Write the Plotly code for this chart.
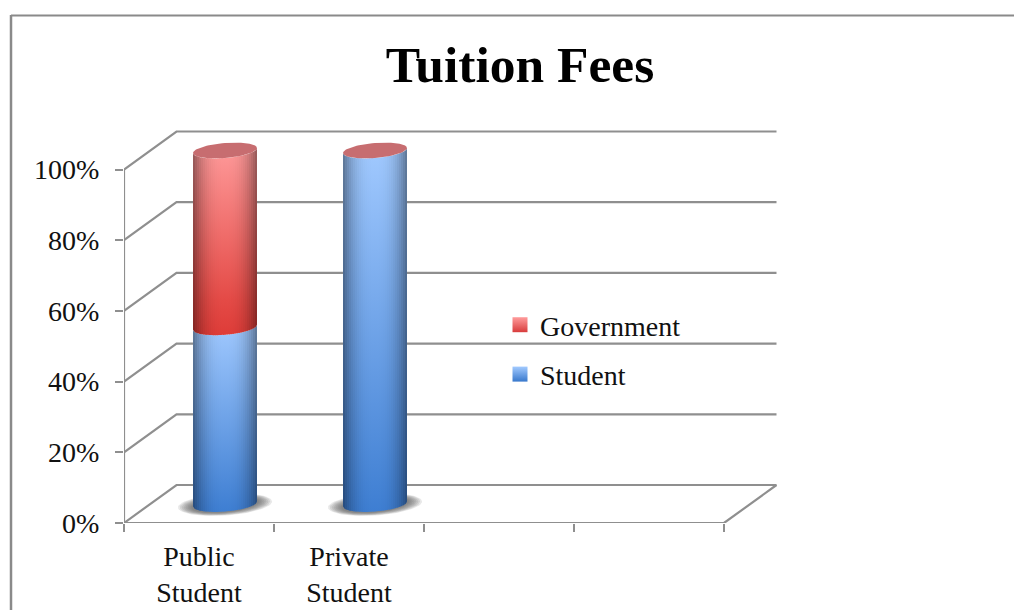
import numpy as np
import plotly.graph_objects as go

# ---- data ----
categories = ["Public<br>Student", "Private<br>Student"]
student = [50, 100]
government = [50, 0]
y_ticks = [0, 20, 40, 60, 80, 100]
y_labels = ["0%", "20%", "40%", "60%", "80%", "100%"]
n_slots = 4

# ---- layout in pixels ----
W, H = 1014, 610
L, R, T, B = 124, 780, 128, 523
PX_X = 150.0           # px per category
PX_Y = 3.535           # px per percent
DEPTH_X = 52.5 / PX_X
DEPTH_Y = 38 / PX_Y
xmax = (R - L) / PX_X
ymax = (B - T) / PX_Y
GREY = "#8f8f8f"
FONT = "Liberation Serif"

RADIUS = 32 / PX_X
B_MINOR = 7.5 / PX_Y
TILT = 2.5 / PX_Y
BASE_Y = 19 / PX_Y
CX_SHIFT = 26 / PX_X

RED = [(0, (222, 60, 56)), (0.18, (228, 74, 70)), (1, (255, 156, 156))]
BLUE = [(0, (62, 126, 210)), (1, (162, 202, 255))]
TOP_COLOR = "#c76d70"

fig = go.Figure()


def line(xs, ys, w=2.2):
    fig.add_trace(go.Scatter(x=xs, y=ys, mode="lines", showlegend=False, hoverinfo="skip",
                             line=dict(color=GREY, width=w)))


# walls and floor
for v in y_ticks:
    line([0, DEPTH_X, n_slots + DEPTH_X], [v, v + DEPTH_Y, v + DEPTH_Y])
line([0, 0], [0, 100])
line([0, n_slots, n_slots + DEPTH_X], [0, 0, DEPTH_Y])


def rgb(c, f=1.0):
    return "rgb(%d,%d,%d)" % tuple(min(255, int(round(a * f))) for a in c)


def shade(u):
    return 1 - 0.42 * abs(u) ** 2.6


def edge(u, v, lower=True):
    s = -np.sqrt(np.clip(1 - u * u, 0, 1)) if lower else np.sqrt(np.clip(1 - u * u, 0, 1))
    return v + BASE_Y + B_MINOR * s + TILT * u


def cylinder(cx, lo, hi, stops):
    n = 32
    us = np.linspace(-1, 1, n + 1)
    for a, b in zip(us[:-1], us[1:]):
        m = (a + b) / 2
        f = shade(m)
        b2 = min(1, b + 0.012)
        uu = np.linspace(a, b2, 4)
        xs = list(cx + RADIUS * uu) + list(cx + RADIUS * uu[::-1])
        ys = list(edge(uu, lo)) + list(edge(uu[::-1], hi))
        xs.append(xs[0])
        ys.append(ys[0])
        fig.add_trace(go.Scatter(
            x=xs, y=ys, mode="lines", fill="toself", line=dict(width=0), showlegend=False,
            hoverinfo="skip",
            fillgradient=dict(type="vertical", start=lo + BASE_Y - B_MINOR, stop=hi + BASE_Y + B_MINOR,
                              colorscale=[[p, rgb(c, f)] for p, c in stops])))


def ellipse(cx, v, rx, ry, tilt):
    t = np.linspace(0, 2 * np.pi, 73)
    return cx + rx * np.cos(t), v + ry * np.sin(t) + tilt * np.cos(t)


# shadows
for i, k in enumerate(categories):
    cx = i + 0.5 + CX_SHIFT
    for s in (1.0, 0.96, 0.92, 0.88, 0.84, 0.80, 0.76, 0.72):
        xs, ys = ellipse(cx, BASE_Y - 0.5 / PX_Y, 47 / PX_X * s, 11 / PX_Y * s, 3 / PX_Y)
        fig.add_trace(go.Scatter(x=xs, y=ys, mode="lines", fill="toself", line=dict(width=0),
                                 fillcolor="rgba(80,80,80,0.13)", showlegend=False, hoverinfo="skip"))

# cylinders
for i, k in enumerate(categories):
    cx = i + 0.5 + CX_SHIFT
    s_v, g_v = student[i], government[i]
    cylinder(cx, 0, s_v, BLUE)
    if g_v > 0:
        cylinder(cx, s_v, s_v + g_v, RED)
    xs, ys = ellipse(cx, s_v + g_v + BASE_Y, RADIUS, B_MINOR, TILT)
    fig.add_trace(go.Scatter(x=xs, y=ys, mode="lines", fill="toself", line=dict(width=0),
                             fillcolor=TOP_COLOR, showlegend=False, hoverinfo="skip"))

# legend entries
for name, top, bottom in (("Government", "#ff9c9c", "#d83c3c"), ("Student", "#a2caff", "#3878cc")):
    fig.add_trace(go.Scatter(x=[None], y=[None], mode="markers", name=name, legendgroup=name,
                             marker=dict(symbol="square", size=15, color=top, line=dict(width=0),
                                         gradient=dict(type="vertical", color=bottom))))

fig.update_layout(
    width=W, height=H, autosize=False,
    margin=dict(l=L, r=W - R, t=T, b=H - B, pad=0, autoexpand=False),
    paper_bgcolor="white", plot_bgcolor="white",
    font=dict(family=FONT, size=28, color="#111111"),
    title=dict(text="<b>Tuition Fees</b>", x=520 / W, xanchor="center", xref="container",
               y=1 - 64 / H, yanchor="middle", yref="container",
               font=dict(family=FONT, size=51.5, color="#000000")),
    xaxis=dict(range=[0, xmax], showgrid=False, zeroline=False, showline=False, automargin=False,
               tickmode="array", tickvals=[i + 0.5 for i in range(len(categories))], ticktext=categories,
               ticks="outside", ticklen=8, tickcolor="rgba(0,0,0,0)", tickangle=0,
               minor=dict(tickmode="array", tickvals=list(range(n_slots + 1)), ticks="outside",
                          ticklen=8, tickwidth=2, tickcolor=GREY, showgrid=False)),
    yaxis=dict(range=[0, ymax], showgrid=False, zeroline=False, showline=False, automargin=False,
               tickmode="array", tickvals=y_ticks, ticktext=y_labels,
               ticks="outside", ticklen=18, tickcolor="rgba(0,0,0,0)",
               minor=dict(tickmode="array", tickvals=y_ticks, ticks="outside",
                          ticklen=8, tickwidth=2, tickcolor=GREY, showgrid=False)),
    legend=dict(x=(500 - L) / (R - L), xanchor="left", y=(B - 300) / (B - T), yanchor="top",
                bgcolor="rgba(0,0,0,0)", tracegroupgap=10, itemwidth=30, traceorder="grouped"),
    shapes=[
        dict(type="line", xref="paper", yref="paper", x0=(11 - L) / (R - L), x1=(W - L) / (R - L),
             y0=(B - 15.5) / (B - T), y1=(B - 15.5) / (B - T), line=dict(color="#8a8a8a", width=2)),
        dict(type="line", xref="paper", yref="paper", x0=(11 - L) / (R - L), x1=(11 - L) / (R - L),
             y0=(B - 15) / (B - T), y1=(B - H) / (B - T), line=dict(color="#8a8a8a", width=2.5)),
    ],
)

fig.write_html("out.html", config={"displayModeBar": False},
               post_script="document.body.style.margin='0';document.body.style.overflow='hidden';")
